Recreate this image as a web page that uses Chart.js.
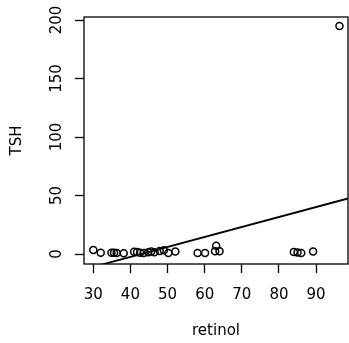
<!DOCTYPE html>
<html>
<head>
<meta charset="utf-8">
<script src="https://cdn.jsdelivr.net/npm/chart.js@4"></script>
<style>
  html, body { margin: 0; padding: 0; background: #fff; }
  #wrap { width: 349px; height: 343px; }
</style>
</head>
<body>
<div id="wrap"><canvas id="chart" width="349" height="343"></canvas></div>
<script>
// values
const retinol = [30, 32, 34.9, 35.6, 36.3, 38.2, 41, 41.8, 42.6, 43.6, 44.8, 45.6, 46.5, 47.9, 49, 50.2, 52.1, 58.1, 60.1, 62.8, 63.1, 64, 84, 85, 86, 89.2, 96.3];
const tsh     = [3.4, 1.1, 1.2, 1.2, 1.0, 0.6, 2.0, 1.8, 1.2, 1.0, 1.6, 2.2, 1.5, 2.6, 3.2, 0.8, 2.2, 0.8, 0.8, 2.5, 7.1, 2.5, 1.8, 1.3, 0.8, 2.2, 194.9];

// fitted line, two ends
const fitX = [27.5, 98.6];
const fitY = [-13.1, 47.5];

const xTicks = [30, 40, 50, 60, 70, 80, 90];
const yTicks = [0, 50, 100, 150, 200];

const points = retinol.map((x, i) => ({x: x, y: tsh[i]}));
const fitLine = fitX.map((x, i) => ({x: x, y: fitY[i]}));

const font = {family: "DejaVu Sans", size: 15};

// box round the plot area like R
const boxPlugin = {
  id: "box",
  afterDatasetsDraw(chart) {
    const a = chart.chartArea;
    const ctx = chart.ctx;
    ctx.save();
    ctx.strokeStyle = "#000";
    ctx.lineWidth = 1.3;
    ctx.strokeRect(a.left, a.top, a.right - a.left, a.bottom - a.top);
    ctx.restore();
  }
};

const myChart = new Chart("chart", {
  type: "scatter",
  data: {
    datasets: [
      {
        data: points,
        pointStyle: "circle",
        pointRadius: 3.5,
        pointBorderWidth: 1.5,
        pointBorderColor: "#000",
        pointBackgroundColor: "rgba(0,0,0,0)",
        showLine: false
      },
      {
        data: fitLine,
        showLine: true,
        borderColor: "#000",
        borderWidth: 1.8,
        pointRadius: 0,
        clip: 0
      }
    ]
  },
  plugins: [boxPlugin],
  options: {
    responsive: false,
    animation: false,
    layout: { autoPadding: false, padding: { top: 17, right: 1, left: 0, bottom: 0 } },
    plugins: { legend: { display: false }, tooltip: { enabled: false } },
    scales: {
      x: {
        type: "linear",
        min: 27.5,
        max: 98.6,
        afterFit: (s) => { s.height = 79; s.paddingLeft = 0; s.paddingRight = 0; },
        afterBuildTicks: (s) => { s.ticks = xTicks.map(v => ({value: v})); },
        border: { display: false },
        grid: { drawOnChartArea: false, drawTicks: true, tickLength: 9, tickWidth: 1.3, tickColor: "#000" },
        ticks: { color: "#000", font: font, padding: 13, maxRotation: 0 },
        title: { display: true, text: "retinol", color: "#000", font: font, padding: { top: 0, bottom: 3 } }
      },
      y: {
        type: "linear",
        min: -8.5,
        max: 202.6,
        afterFit: (s) => { s.width = 84; s.paddingTop = 0; s.paddingBottom = 0; },
        afterBuildTicks: (s) => { s.ticks = yTicks.map(v => ({value: v})); },
        border: { display: false },
        grid: { drawOnChartArea: false, drawTicks: true, tickLength: 9, tickWidth: 1.3, tickColor: "#000" },
        ticks: { color: "#000", font: font, padding: 4, minRotation: 90, maxRotation: 90, crossAlign: "center" },
        title: { display: true, text: "TSH", color: "#000", font: font, padding: { top: 8, bottom: 0 } }
      }
    }
  }
});
</script>
</body>
</html>
